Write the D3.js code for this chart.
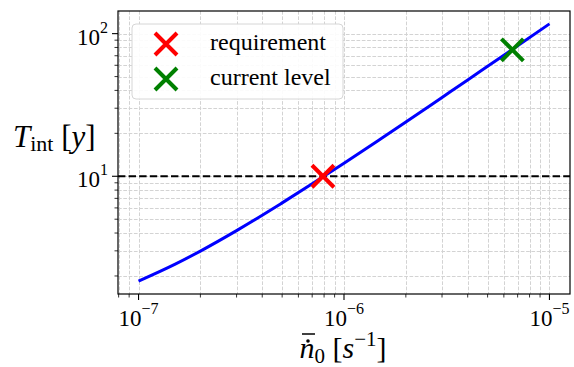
<!DOCTYPE html>
<html>
<head>
<meta charset="utf-8">
<script src="https://cdn.jsdelivr.net/npm/d3@7"></script>
<style>
  html, body { margin: 0; padding: 0; background: #fff; }
  svg text, svg tspan { font-family: "Liberation Serif", "Times New Roman", serif; fill: #000; }
</style>
</head>
<body>
<div id="chart"></div>
<script>
// mean rate n0 [1/s] and integration time T [y]
const rates = [1e-7, 1.5e-7, 2e-7, 3e-7, 4e-7, 5e-7, 7e-7, 1e-6, 1.5e-6, 2e-6, 3e-6, 4e-6, 5e-6, 7e-6, 1e-5];
const times = [1.84, 2.41, 2.99, 4.16, 5.33, 6.51, 8.85, 12.36, 18.2, 24.0, 35.7, 47.3, 59.0, 82.2, 117.1];

const requirement = { label: 'requirement', rate: 7.9e-7, time: 10, color: '#ff0000' };
const currentLevel = { label: 'current level', rate: 6.6e-6, time: 77, color: '#008000' };
const markers = [requirement, currentLevel];

const xMajor = [-7, -6, -5];
const yMajor = [1, 2];
const refLine = 10;

const W = 574, H = 367;
const pLeft = 118, pRight = 570, pTop = 11, pBottom = 294;

const svg = d3.select('#chart').append('svg').attr('width', W).attr('height', H);

// matplotlib-style 5% margins in log space
const lx = d3.extent(rates).map(Math.log10);
const ly = d3.extent(times).map(Math.log10);
const mx = (lx[1] - lx[0]) * 0.05, my = (ly[1] - ly[0]) * 0.05;

const x = d3.scaleLog().domain([10 ** (lx[0] - mx), 10 ** (lx[1] + mx)]).range([pLeft, pRight]);
const y = d3.scaleLog().domain([10 ** (ly[0] - my), 10 ** (ly[1] + my)]).range([pBottom, pTop]);

// all ticks (major + minor) inside the domain
function logTicks(scale) {
  let d = scale.domain();
  let out = [];
  for (let e = Math.floor(Math.log10(d[0])); e <= Math.ceil(Math.log10(d[1])); e++) {
    for (let m = 1; m < 10; m++) {
      let v = m * 10 ** e;
      if (v >= d[0] * 0.9999 && v <= d[1] * 1.0001) out.push({ v: v, major: m === 1 });
    }
  }
  return out;
}
const xt = logTicks(x), yt = logTicks(y);

// grid
let grid = svg.append('g')
  .attr('stroke', '#d3d3d3').attr('stroke-width', 1).attr('stroke-dasharray', '3.7,1.6');
grid.selectAll('.gx').data(xt).enter().append('line')
  .attr('x1', d => Math.round(x(d.v)) + 0.5).attr('x2', d => Math.round(x(d.v)) + 0.5)
  .attr('y1', pTop).attr('y2', pBottom);
grid.selectAll('.gy').data(yt).enter().append('line')
  .attr('y1', d => Math.round(y(d.v)) + 0.5).attr('y2', d => Math.round(y(d.v)) + 0.5)
  .attr('x1', pLeft).attr('x2', pRight);

// reference line
svg.append('line')
  .attr('x1', pLeft).attr('x2', pRight)
  .attr('y1', y(refLine)).attr('y2', y(refLine))
  .attr('stroke', '#000').attr('stroke-width', 2).attr('stroke-dasharray', '7.4,3.2');

// curve
const line = d3.line().x((d, i) => x(rates[i])).y(d => y(d)).curve(d3.curveMonotoneX);
svg.append('path')
  .datum(times)
  .attr('d', line)
  .attr('fill', 'none').attr('stroke', '#0000ff').attr('stroke-width', 3);

function drawCross(g, cx, cy, size, color) {
  let s = size / 2;
  g.append('path')
    .attr('d', `M${cx - s},${cy - s}L${cx + s},${cy + s}M${cx - s},${cy + s}L${cx + s},${cy - s}`)
    .attr('stroke', color).attr('stroke-width', 4).attr('fill', 'none');
}

markers.forEach(m => drawCross(svg, x(m.rate), y(m.time), 22, m.color));

// frame
svg.append('rect')
  .attr('x', pLeft).attr('y', pTop).attr('width', pRight - pLeft).attr('height', pBottom - pTop)
  .attr('fill', 'none').attr('stroke', '#000').attr('stroke-width', 1.2);

// ticks
let ticks = svg.append('g').attr('stroke', '#000');
ticks.selectAll('.tx').data(xt).enter().append('line')
  .attr('x1', d => x(d.v)).attr('x2', d => x(d.v))
  .attr('y1', pBottom).attr('y2', d => pBottom + (d.major ? 6 : 3.5))
  .attr('stroke-width', d => d.major ? 1.1 : 0.8);
ticks.selectAll('.ty').data(yt).enter().append('line')
  .attr('y1', d => y(d.v)).attr('y2', d => y(d.v))
  .attr('x1', pLeft).attr('x2', d => pLeft - (d.major ? 6 : 3.5))
  .attr('stroke-width', d => d.major ? 1.1 : 0.8);

// tick labels
xMajor.forEach(e => {
  let t = svg.append('text')
    .attr('x', x(10 ** e)).attr('y', 326)
    .attr('text-anchor', 'middle').attr('font-size', 23);
  t.append('tspan').text('10');
  t.append('tspan').attr('dy', -12).attr('font-size', 16).text('\u2212' + Math.abs(e));
});
yMajor.forEach(e => {
  let t = svg.append('text')
    .attr('x', 108).attr('y', y(10 ** e) + 11)
    .attr('text-anchor', 'end').attr('font-size', 23);
  t.append('tspan').text('10');
  t.append('tspan').attr('dy', -12).attr('font-size', 16).text(e);
});

// y label: T_int [y]
let yl = svg.append('text').attr('x', 13).attr('y', 147).attr('font-size', 31);
yl.append('tspan').attr('font-style', 'italic').text('T');
yl.append('tspan').attr('dy', 4).attr('font-size', 22).text('int');
yl.append('tspan').attr('dy', -4).text(' [');
yl.append('tspan').attr('font-style', 'italic').text('y');
yl.append('tspan').text(']');

// x label: n0 with dot and bar [s^-1]
let xl = svg.append('text').attr('x', 343).attr('y', 358).attr('text-anchor', 'middle').attr('font-size', 30);
xl.append('tspan').attr('font-style', 'italic').text('n');
xl.append('tspan').attr('dy', 5).attr('font-size', 21).text('0');
xl.append('tspan').attr('dy', -5).text(' [');
xl.append('tspan').attr('font-style', 'italic').text('s');
xl.append('tspan').attr('dy', -12).attr('font-size', 21).text('\u22121');
xl.append('tspan').attr('dy', 12).text(']');
let nBox = xl.node().getExtentOfChar(0);
let ncx = nBox.x + nBox.width / 2 + 1;
svg.append('circle').attr('cx', ncx).attr('cy', 341).attr('r', 1.8).attr('fill', '#000');
svg.append('line')
  .attr('x1', ncx - 6).attr('x2', ncx + 7).attr('y1', 334).attr('y2', 334)
  .attr('stroke', '#000').attr('stroke-width', 1.5);

// legend
let lg = svg.append('g');
lg.append('rect')
  .attr('x', 132).attr('y', 24).attr('width', 211).attr('height', 75).attr('rx', 4)
  .attr('fill', '#fff').attr('fill-opacity', 0.9)
  .attr('stroke', '#d6d6d6').attr('stroke-width', 1);
markers.forEach((m, i) => {
  let cy = 44 + i * 35;
  drawCross(lg, 166, cy, 22, m.color);
  lg.append('text').attr('x', 210).attr('y', cy + 6).attr('font-size', 24).text(m.label);
});
</script>
</body>
</html>
